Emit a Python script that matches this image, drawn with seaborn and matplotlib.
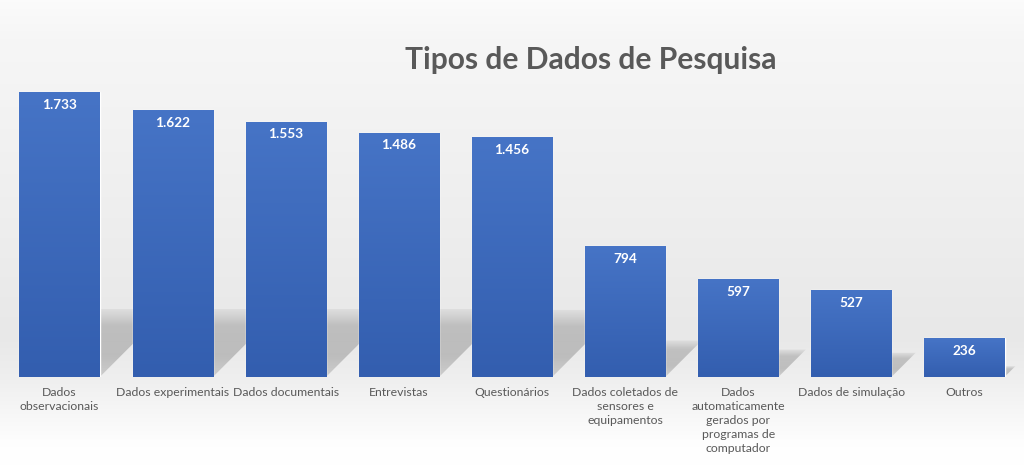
import numpy as np
import pandas as pd
import matplotlib
matplotlib.use("Agg")
import matplotlib.pyplot as plt
from matplotlib.patches import Polygon
import seaborn as sns

categories = ["Dados\nobservacionais", "Dados experimentais", "Dados documentais",
              "Entrevistas", "Questionários",
              "Dados coletados de\nsensores e\nequipamentos",
              "Dados\nautomaticamente\ngerados por\nprogramas de\ncomputador",
              "Dados de simulação", "Outros"]
values = [1733, 1622, 1553, 1486, 1456, 794, 597, 527, 236]
value_labels = ["1.733", "1.622", "1.553", "1.486", "1.456", "794", "597", "527", "236"]

sns.set_theme(style="white")
plt.rcParams['font.family'] = ['Lato', 'DejaVu Sans']

W, H = 1024, 466
fig = plt.figure(figsize=(W / 100, H / 100), dpi=100)

# background gradient (top -> bottom)
bg = fig.add_axes([0, 0, 1, 1], zorder=-10)
yy = np.linspace(0, 1, 466)
col = np.interp(yy, [0, 0.08, 0.45, 0.72, 0.81, 0.95, 1.0],
                [0.985, 0.965, 0.935, 0.91, 0.935, 0.995, 1.0])
img = np.dstack([col[:, None]] * 3).repeat(2, axis=1)
bg.imshow(img, aspect='auto', extent=[0, 1, 0, 1], origin='upper')
bg.set_xlim(0, 1)
bg.set_ylim(0, 1)
bg.axis('off')

ax = fig.add_axes([0.003, 0.191, 0.994, 0.706])
ax.patch.set_alpha(0)
df = pd.DataFrame({"cat": categories, "val": values})
sns.barplot(data=df, x="cat", y="val", color="#4170C2", saturation=1, width=0.71, ax=ax, zorder=3)
ax.set_ylim(0, 2000)
ax.set_xlim(-0.5, len(values) - 0.5)
for s in ax.spines.values():
    s.set_visible(False)
ax.set_yticks([])
ax.set_xlabel("")
ax.set_ylabel("")
ax.tick_params(axis='x', length=0, pad=7, labelsize=8.8, labelcolor="#595959")
for t in ax.get_xticklabels():
    t.set_linespacing(1.35)

# scale factors (pixels per data unit)
ax_w_px = 0.994 * W
ax_h_px = 0.706 * H
px_per_x = ax_w_px / len(values)
px_per_y = ax_h_px / 2000

# bar shadows + gradient fills
top = np.array([0x46, 0x74, 0xC6]) / 255
bot = np.array([0x33, 0x5E, 0xAF]) / 255
for p in list(ax.patches):
    x0, w, h = p.get_x(), p.get_width(), p.get_height()
    # perspective shadow behind bar
    sh_px = min(0.28 * h * px_per_y, 68)
    dy = sh_px / px_per_y
    dx = sh_px / px_per_x
    poly = Polygon([(x0, 0), (x0 + w, 0), (x0 + w + dx, dy), (x0 + dx, dy)], closed=True,
                   facecolor='none', edgecolor='none')
    ax.add_patch(poly)
    a = np.interp(np.linspace(0, 1, 60), [0, 0.25, 0.7, 1], [0.08, 0.33, 0.36, 0.25])[:, None]
    shade = np.zeros((60, 2, 4))
    shade[..., :3] = 0.42
    shade[..., 3] = a
    sim = ax.imshow(shade, extent=[x0, x0 + w + dx, 0, dy], aspect='auto', origin='upper', zorder=1,
                    interpolation='bilinear')
    sim.set_clip_path(poly)
    # gradient on bar
    g = np.linspace(0, 1, 100)[:, None]
    arr = (top + (bot - top) * g[..., None]).repeat(2, axis=1)
    im = ax.imshow(arr, extent=[x0, x0 + w, 0, h], aspect='auto', origin='upper', zorder=3.5)
    im.set_clip_path(p)
ax.set_xlim(-0.5, len(values) - 0.5)
ax.set_ylim(0, 2000)
ax.set_aspect('auto')

for i, (v, lab) in enumerate(zip(values, value_labels)):
    ax.text(i, v - 78, lab, ha='center', va='center', color='white', fontsize=9.8,
            fontweight='bold', zorder=5)

fig.text(0.577, 0.872, "Tipos de Dados de Pesquisa", ha='center', va='center',
         fontsize=21.6, fontweight='bold', color='#595959')

fig.savefig("out.png", dpi=100)
